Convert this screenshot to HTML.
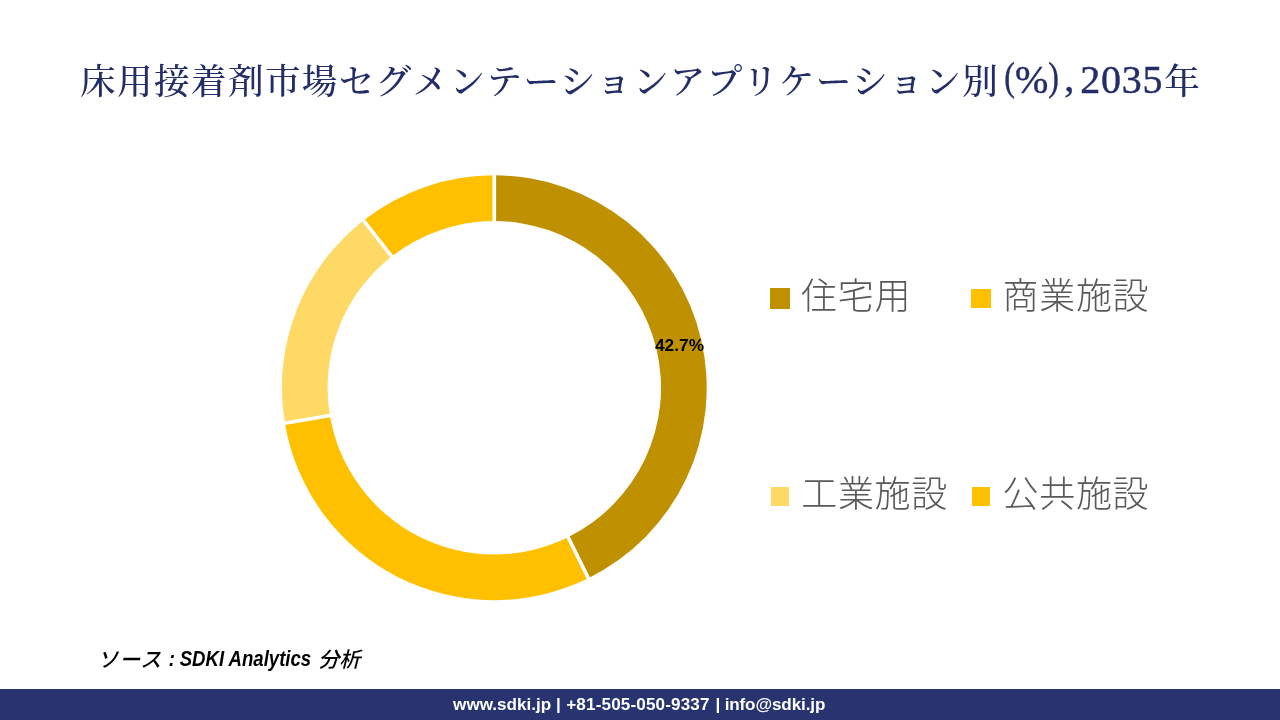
<!DOCTYPE html>
<html lang="ja">
<head>
<meta charset="utf-8">
<title>床用接着剤市場セグメンテーションアプリケーション別(%), 2035年</title>
<style>
html,body{margin:0;padding:0;}
body{width:1280px;height:720px;position:relative;overflow:hidden;background:#fff;font-family:"Liberation Sans","Noto Sans CJK JP",sans-serif;}
.chart{position:absolute;left:0;top:0;}
.title{position:absolute;left:80px;top:52.8px;white-space:nowrap;font-family:"Liberation Serif","Noto Serif CJK JP","Noto Serif CJK SC",serif;font-size:35.6px;line-height:56px;color:#232E68;font-weight:500;margin:0;}
.title .cj{letter-spacing:1.4px;}
.title .la{font-size:40px;font-weight:400;-webkit-text-stroke:0.45px #232E68;}
.title .up{position:relative;}
.title .pr{display:inline-block;transform:scaleX(0.8);}
.lg{position:absolute;white-space:nowrap;font-family:"Liberation Sans","Noto Sans CJK JP",sans-serif;font-weight:300;font-size:36px;line-height:44px;letter-spacing:0.7px;color:#595959;}
.sq{position:absolute;}
.dl{position:absolute;left:655px;top:335.1px;font-weight:700;font-size:17.3px;line-height:20px;color:#000;white-space:nowrap;}
.src{position:absolute;left:97.2px;top:646px;font-style:italic;font-weight:700;font-size:18.6px;line-height:26px;color:#000;white-space:nowrap;}
.src .la{display:inline-block;transform:scaleY(1.15);transform-origin:50% 77%;}
.src .jp{font-weight:500;font-size:21px;position:relative;top:1px;}
.footer{position:absolute;left:0;top:689px;width:1280px;height:31px;background:#27346F;color:#fff;font-weight:700;font-size:17.1px;line-height:31px;text-align:left;white-space:nowrap;padding-left:453.1px;box-sizing:border-box;}
</style>
</head>
<body>
<h1 class="title"><span class="cj">床用接着剤市場セグメンテーションアプリケーション別</span><span class="la" style="margin-left:3.6px;letter-spacing:-1px"><span class="up pr" style="top:-4.3px">(</span><span class="up" style="top:-1.1px">%</span><span class="up pr" style="top:-4.3px">)</span></span><span class="la up" style="margin-left:4.5px;top:-2.8px">,</span> <span class="la up" style="margin-left:-2.9px;letter-spacing:0.8px;top:-1.1px">2035</span><span style="margin-left:0.8px">年</span></h1>
<svg class="chart" width="1280" height="720" viewBox="0 0 1280 720">
<path d="M494.30 175.35A212.4 212.4 0 0 1 588.34 578.20L568.11 537.22A166.7 166.7 0 0 0 494.30 221.05Z" fill="#BF9000"/>
<path d="M588.34 578.20A212.4 212.4 0 0 1 284.87 423.17L329.93 415.55A166.7 166.7 0 0 0 568.11 537.22Z" fill="#FFC000"/>
<path d="M284.87 423.17A212.4 212.4 0 0 1 363.53 220.38L391.67 256.39A166.7 166.7 0 0 0 329.93 415.55Z" fill="#FFD966"/>
<path d="M363.53 220.38A212.4 212.4 0 0 1 494.30 175.35L494.30 221.05A166.7 166.7 0 0 0 391.67 256.39Z" fill="#FFC000"/>
<line x1="494.30" y1="224.05" x2="494.30" y2="172.35" stroke="#fff" stroke-width="3.6"/>
<line x1="566.78" y1="534.53" x2="589.67" y2="580.89" stroke="#fff" stroke-width="3.6"/>
<line x1="332.89" y1="415.05" x2="281.92" y2="423.67" stroke="#fff" stroke-width="3.6"/>
<line x1="393.52" y1="258.75" x2="361.69" y2="218.01" stroke="#fff" stroke-width="3.6"/>
</svg>
<div class="dl">42.7%</div>
<div class="sq" style="left:770px;top:288px;width:20px;height:20.6px;background:#BF9000"></div>
<div class="lg" style="left:801.1px;top:275.3px">住宅用</div>
<div class="sq" style="left:970.8px;top:288.6px;width:20.1px;height:19.3px;background:#FFC000"></div>
<div class="lg" style="left:1002.5px;top:275.3px">商業施設</div>
<div class="sq" style="left:770.8px;top:486.9px;width:18.4px;height:18.9px;background:#FFD966"></div>
<div class="lg" style="left:801.2px;top:472.8px">工業施設</div>
<div class="sq" style="left:971.9px;top:486.8px;width:18.3px;height:19px;background:#FFC000"></div>
<div class="lg" style="left:1002.5px;top:472.8px">公共施設</div>
<div class="src"><span class="jp" style="letter-spacing:1px">ソース</span> <span class="la" style="margin-left:1.53px">:</span> <span class="la" style="margin-left:-0.57px">SDKI Analytics</span> <span class="jp" style="margin-left:1.83px">分析</span></div>
<div class="footer"><span>www.sdki.jp</span> <span style="margin-left:0.05px">|</span> <span style="margin-left:0.65px;letter-spacing:0.14px">+81-505-050-9337</span> <span style="margin-left:1.15px">|</span> <span style="margin-left:-0.45px;letter-spacing:-0.13px">info@sdki.jp</span></div>
</body>
</html>
